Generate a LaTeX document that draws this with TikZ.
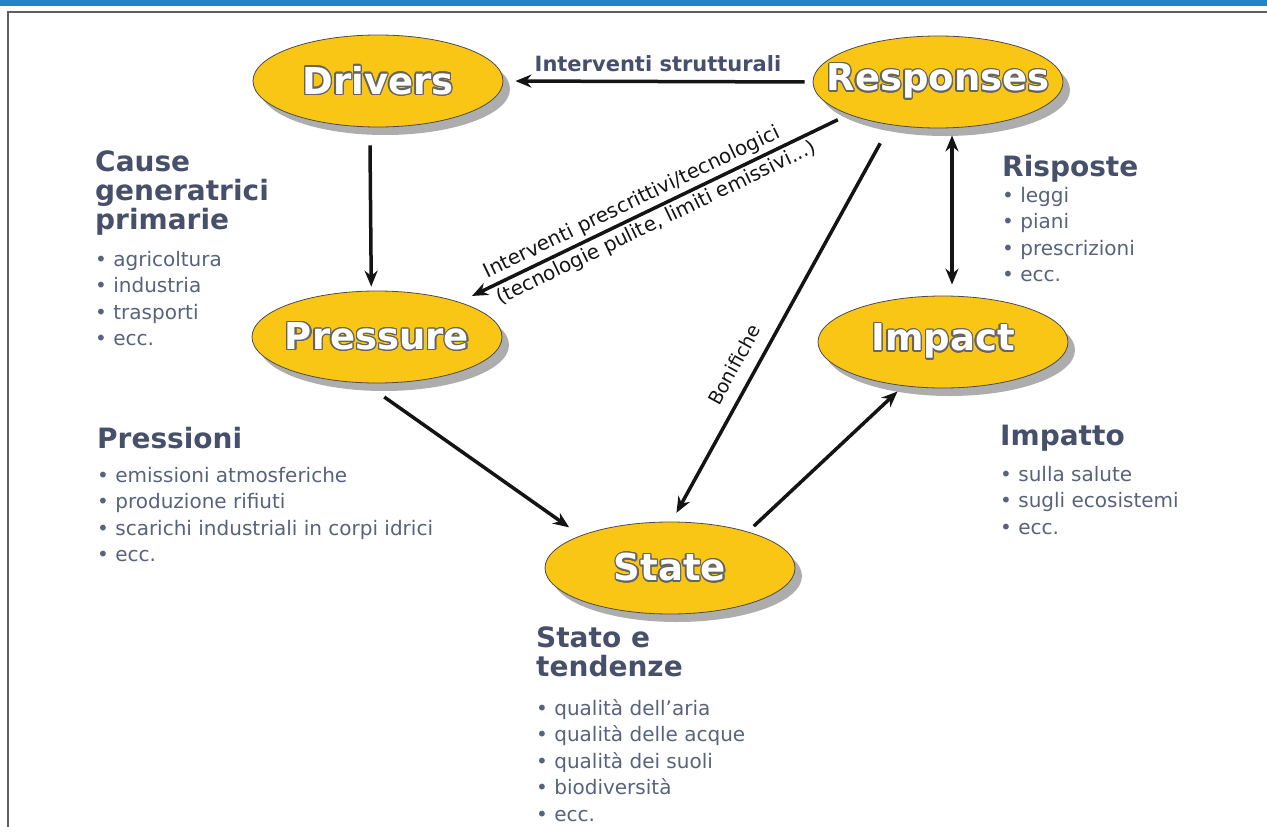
\documentclass[tikz,border=0pt]{standalone}
\usepackage{fontspec}
\setmainfont{DejaVu Sans}
\usepackage[copies]{contour}
\usepackage{tikz}
\usetikzlibrary{arrows.meta,shapes.geometric,shadows}
\definecolor{ink}{RGB}{20,20,20}
\definecolor{slate}{RGB}{70,80,106}
\definecolor{slatelt}{RGB}{88,98,124}
\definecolor{gold}{RGB}{250,198,22}
\definecolor{topbar}{RGB}{34,132,200}
\definecolor{framegray}{RGB}{95,95,95}
\definecolor{labeledge}{RGB}{100,100,100}
\contourlength{1.3pt}
\def\ColL{95}
\def\ColM{536}
\def\ColR{1002}
\tikzset{
  stage/.style={
    ellipse, draw=black!70, line width=0.8pt, fill=gold,
    minimum width=250, minimum height=92, inner sep=0pt,
    drop shadow={shadow xshift=7pt, shadow yshift=-8pt, fill=black!32, opacity=1},
  },
  stagetext/.style={
    text=white, inner sep=0pt, font=\fontsize{37}{40}\selectfont\bfseries,
  },
  heading/.style={
    anchor=north west, inner sep=0pt, align=left, text=slate,
    font=\fontsize{28}{29}\selectfont\bfseries,
  },
  items/.style={
    anchor=north west, inner sep=0pt, align=left, text=slatelt,
    font=\fontsize{20}{26.5}\selectfont,
  },
  flow/.style={-{Stealth[length=16pt,width=13pt]}, line width=3.5pt, draw=ink},
  back/.style={{Stealth[length=16pt,width=13pt]}-, line width=3.5pt, draw=ink},
  twoway/.style={{Stealth[length=16pt,width=13pt]}-{Stealth[length=16pt,width=13pt]}, line width=3.5pt, draw=ink},
  tag/.style={font=\fontsize{20}{22}\selectfont, text=ink, inner sep=3pt},
  tagsmall/.style={font=\fontsize{19}{21}\selectfont, text=ink, inner sep=12pt},
  tagbold/.style={font=\fontsize{21}{23}\selectfont\bfseries, text=slate, inner sep=3pt},
}
\newcommand{\ovaltext}[1]{\contour{labeledge}{#1}}

\begin{document}
\begin{tikzpicture}[x=1pt,y=-1pt]
  \useasboundingbox (0,0) rectangle (1267,827);
  \fill[topbar] (0,0) rectangle (1267,6);
  \draw[framegray, line width=2.5pt] (1267,12) -- (8,12) -- (8,827);

  \node[stage, label={[stagetext]center:\ovaltext{Drivers}}] (drv) at (378,81) {};
  \node[stage, label={[stagetext]center:\ovaltext{Responses}}] (resp) at (938,82) {};
  \node[stage, label={[stagetext]center:\ovaltext{Pressure}}] (press) at (377,337) {};
  \node[stage, label={[stagetext]center:\ovaltext{Impact}}] (imp) at (943,342) {};
  \node[stage, label={[stagetext]center:\ovaltext{State}}] (state) at (670,568) {};

  \draw[flow, shorten <=8pt, shorten >=12pt] (resp.west) -- (drv.east)
    node[midway, above=5pt, tagbold] {Interventi strutturali};
  \draw[flow, shorten <=18pt, shorten >=4pt] (drv.260) -- (press.97);
  \draw[back, shorten <=14pt, shorten >=12pt] (press.23) -- (resp.200)
    node[pos=0.46, sloped, above, tag] {Interventi prescrittivi/tecnologici}
    node[pos=0.49, sloped, below, tag] {(tecnologie pulite, limiti emissivi...)};
  \draw[back, shorten <=10pt, shorten >=21pt] (state.88) -- (resp.222)
    node[pos=0.37, sloped, above, tagsmall] {Bonifiche};
  \draw[twoway, shorten <=7pt, shorten >=11pt] ([xshift=14pt]resp.south) -- ([xshift=9pt]imp.north);
  \draw[flow, shorten <=24pt, shorten >=14pt] (press.255) -- (state.160);
  \draw[flow, shorten <=8pt, shorten >=8pt] (state.25) -- (imp.228);

  \node[heading] (causeh) at (\ColL,151) {Cause\\generatrici\\primarie};
  \node[items] (causel) at (\ColL,251) {• agricoltura\\• industria\\• trasporti\\• ecc.};

  \node[heading] (rispo) at (\ColR,155) {Risposte};
  \node[items] (rispol) at (\ColR,187) {• leggi\\• piani\\• prescrizioni\\• ecc.};

  \node[heading] (pressh) at (97,427) {Pressioni};
  \node[items] (pressl) at (97,467) {• emissioni atmosferiche\\• produzione rifiuti\\• scarichi industriali in corpi idrici\\• ecc.};

  \node[heading] (impah) at (1000,425) {Impatto};
  \node[items] (impal) at (1000,466) {• sulla salute\\• sugli ecosistemi\\• ecc.};

  \node[heading] (statoh) at (\ColM,627) {Stato e\\tendenze};
  \node[items] (statol) at (\ColM,699) {• qualità dell'aria\\• qualità delle acque\\• qualità dei suoli\\• biodiversità\\• ecc.};
\end{tikzpicture}
\end{document}
